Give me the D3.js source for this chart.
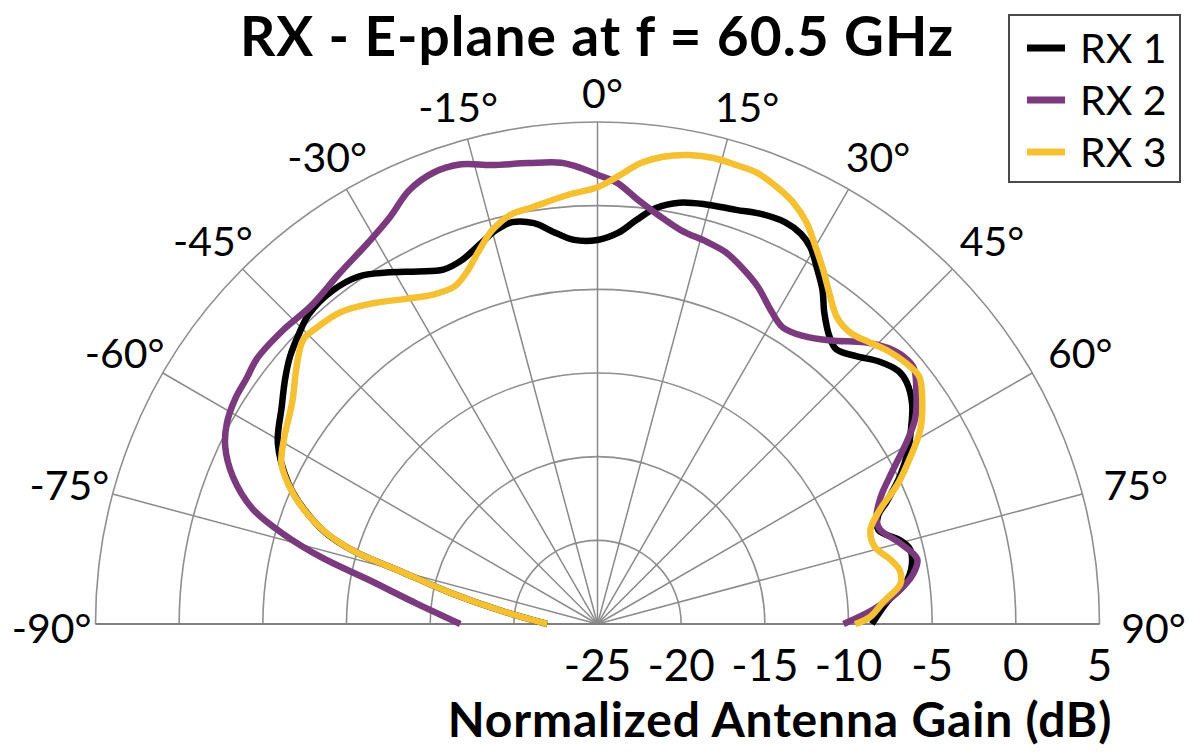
<!DOCTYPE html>
<html>
<head>
<meta charset="utf-8">
<script src="https://cdn.jsdelivr.net/npm/d3@7"></script>
<style>
  html, body { margin: 0; padding: 0; background: #fff; }
  svg { display: block; }
  text { font-family: "Lato", "Carlito", "Noto Sans", sans-serif; fill: #000; }
</style>
</head>
<body>
<svg id="chart" width="1189" height="752"></svg>
<script>
// ---- data -------------------------------------------------------------
const seriesNames = ["RX 1", "RX 2", "RX 3"];
const seriesColors = ["#000000", "#7b3a7e", "#f5c132"];

// Angles in degrees (0 = boresight, positive to the right), gains in dB
const rx1Angles = [-90, -82, -78, -75, -73.5, -71.5, -68.5, -65.5, -60.5, -55.5,
  -52, -49, -46, -43, -38.5, -34.5, -31, -27, -23.5, -20.5,
  -17, -14.5, -12, -9, -6.5, -3.5, 0, 3, 5.5, 8,
  11, 14.5, 18.5, 22, 25, 27.5, 29.5, 31.5, 34, 36,
  39, 41, 44, 47, 50, 52, 55, 58, 61, 64,
  67, 69, 71.5, 74.5, 76.5, 79.5, 82.5, 85.5, 90];
const rx1Gain = [-22.0, -19.1, -16.0, -12.8, -10.0, -7.9, -6.1, -4.7, -3.05, -2.1,
  -1.3, -0.65, -0.15, 0.3, 0.45, 0.2, -0.5, -1.35, -1.9, -1.8,
  -1.2, -0.7, -0.45, -0.75, -1.4, -2.0, -2.05, -1.6, -0.75, 0.1,
  0.65, 0.9, 1.1, 1.4, 1.5, 1.3, 0.85, 0.05, -0.95, -1.95,
  -2.95, -3.25, -2.75, -2.0, -1.5, -1.55, -2.05, -2.9, -3.8, -4.9,
  -6.2, -7.05, -7.3, -6.25, -5.8, -5.9, -6.45, -7.6, -8.6];

const rx2Angles = [-90, -83.5, -79, -76.5, -74, -71.5, -68, -64.5, -61.5, -58,
  -55, -52, -47, -42, -36.5, -31, -27, -23.5, -20, -16.5,
  -13, -8.5, -4.5, -2, 0, 2.5, 5.5, 8.5, 12, 16,
  19, 22.5, 25.5, 29, 32, 35.5, 39.5, 43.5, 46.5, 49,
  51, 53.5, 57, 59.5, 62.5, 66, 69.5, 71.5, 75, 78.5,
  81, 84, 87, 90];
const rx2Gain = [-16.8, -14.1, -11.0, -8.1, -5.45, -3.25, -1.5, -0.35, 0.2, 0.5,
  0.6, 0.8, 0.72, 0.58, 1.0, 1.6, 2.3, 3.25, 3.7, 3.65,
  3.15, 2.85, 2.65, 2.25, 1.85, 1.4, 0.45, -0.3, -0.95, -1.25,
  -1.5, -2.1, -2.7, -3.6, -4.1, -3.85, -3.05, -1.8, -1.05, -0.7,
  -0.68, -1.3, -2.35, -3.55, -5.1, -6.5, -7.2, -7.2, -6.3, -5.5,
  -5.9, -7.0, -8.5, -10.3];

const rx3Angles = [-90, -82, -78, -75, -73.5, -71.5, -68.5, -65.5, -63, -59.5,
  -55.5, -53.5, -49.5, -46, -43.5, -39.5, -35, -30.5, -26.5, -23,
  -20.5, -17.5, -15, -12, -9, -4, 0, 2.5, 5.5, 8,
  11, 14, 17, 19.5, 22.5, 25, 27.5, 30, 32.5, 35,
  38, 41, 44, 47, 50.5, 52.5, 55.5, 59, 62, 65,
  68, 71, 74.5, 77.5, 80, 82.5, 85.5, 88.5, 90];
const rx3Gain = [-22.0, -19.1, -16.0, -12.8, -10.0, -7.95, -6.05, -4.65, -3.8, -3.25,
  -2.7, -2.35, -1.35, -0.55, -0.6, -0.85, -1.6, -2.45, -3.0, -3.1,
  -2.6, -1.55, -0.65, 0.0, 0.2, 0.7, 1.1, 1.75, 2.7, 3.2,
  3.55, 3.7, 3.65, 3.6, 3.2, 2.75, 2.05, 1.05, 0.1, -0.85,
  -1.75, -1.95, -1.6, -1.15, -0.8, -0.75, -1.45, -2.5, -3.85, -5.2,
  -6.8, -7.75, -7.8, -7.1, -6.65, -6.75, -7.85, -8.7, -9.6];

const gainTicks = [-25, -20, -15, -10, -5, 0, 5];
const angleTicks = [-90, -75, -60, -45, -30, -15, 0, 15, 30, 45, 60, 75, 90];

const titleText = "RX - E-plane at f = 60.5 GHz";
const axisTitle = "Normalized Antenna Gain (dB)";

// ---- layout -----------------------------------------------------------
const W = 1189, H = 752;
const cx = 597.5, cy = 624, R = 502;
const rad = d => d * Math.PI / 180;

const r = d3.scaleLinear().domain([-25, 5]).range([0, R]);

const svg = d3.select("#chart");
svg.append("rect").attr("width", W).attr("height", H).attr("fill", "#fff");

const g = svg.append("g").attr("transform", `translate(${cx},${cy})`);

// concentric half circles
const ringPath = rr => {
  const p = d3.path();
  p.moveTo(-rr, 0);
  p.arc(0, 0, rr, Math.PI, 2 * Math.PI);
  return p.toString();
};
g.append("g").selectAll("path")
  .data(gainTicks.filter(v => v > -25))
  .join("path")
  .attr("d", v => ringPath(r(v)))
  .attr("fill", "none")
  .attr("stroke", "#8f8f8f")
  .attr("stroke-width", 1.6);

// spokes
g.append("g").selectAll("line")
  .data(angleTicks)
  .join("line")
  .attr("x1", 0).attr("y1", 0)
  .attr("x2", a => R * Math.sin(rad(a)))
  .attr("y2", a => -R * Math.cos(rad(a)))
  .attr("stroke", "#8a8a8a")
  .attr("stroke-width", 1.5);

// baseline
g.append("line")
  .attr("x1", -R).attr("x2", R).attr("y1", 0).attr("y2", 0)
  .attr("stroke", "#808080").attr("stroke-width", 2.2);

// angle labels, centred a little outside the outer ring
const angFont = 41;
const labelDist = a => 528 + 23 * Math.abs(Math.sin(rad(a)));
const labelAng = a => rad(a + Math.sign(a) * 0.7);
g.append("g").attr("transform", "translate(5,0)")
  .selectAll("text")
  .data(angleTicks)
  .join("text")
  .attr("x", a => labelDist(a) * Math.sin(labelAng(a)))
  .attr("y", a => -labelDist(a) * Math.cos(labelAng(a)) + 0.36 * angFont - 3)
  .attr("text-anchor", "middle")
  .attr("font-size", angFont)
  .text(a => a + "°");

// gain tick labels along the baseline
g.append("g").selectAll("text")
  .data(gainTicks)
  .join("text")
  .attr("x", v => r(v))
  .attr("y", 57)
  .attr("text-anchor", "middle")
  .attr("font-size", 44)
  .text(v => v);

// curves
const radial = d3.lineRadial()
  .angle(d => rad(d[0]))
  .radius(d => r(d[1]))
  .curve(d3.curveCatmullRom.alpha(0.5));

const series = [
  d3.zip(rx1Angles, rx1Gain),
  d3.zip(rx2Angles, rx2Gain),
  d3.zip(rx3Angles, rx3Gain)
];

g.append("g").selectAll("path")
  .data(series)
  .join("path")
  .attr("d", radial)
  .attr("fill", "none")
  .attr("stroke", (d, i) => seriesColors[i])
  .attr("stroke-width", 6.5)
  .attr("stroke-linejoin", "round")
  .attr("stroke-linecap", "butt");

// title and axis title
svg.append("text")
  .attr("x", 597).attr("y", 56)
  .attr("text-anchor", "middle")
  .attr("font-size", 55)
  .attr("font-weight", 700)
  .attr("letter-spacing", 1)
  .text(titleText);

svg.append("text")
  .attr("x", 780).attr("y", 737)
  .attr("text-anchor", "middle")
  .attr("font-size", 48)
  .attr("font-weight", 700)
  .attr("letter-spacing", 0.8)
  .text(axisTitle);

// legend
const lg = svg.append("g").attr("transform", "translate(1009,15)");
lg.append("rect")
  .attr("width", 171).attr("height", 167)
  .attr("fill", "#fff")
  .attr("stroke", "#4a4a4a")
  .attr("stroke-width", 2);
const items = lg.selectAll("g.item")
  .data(seriesNames)
  .join("g")
  .attr("class", "item")
  .attr("transform", (d, i) => `translate(0,${33 + i * 52})`);
items.append("line")
  .attr("x1", 18).attr("x2", 56)
  .attr("y1", 0).attr("y2", 0)
  .attr("stroke", (d, i) => seriesColors[i])
  .attr("stroke-width", 7);
items.append("text")
  .attr("x", 71)
  .attr("y", 0.36 * 41)
  .attr("font-size", 41)
  .text(d => d);
</script>
</body>
</html>
